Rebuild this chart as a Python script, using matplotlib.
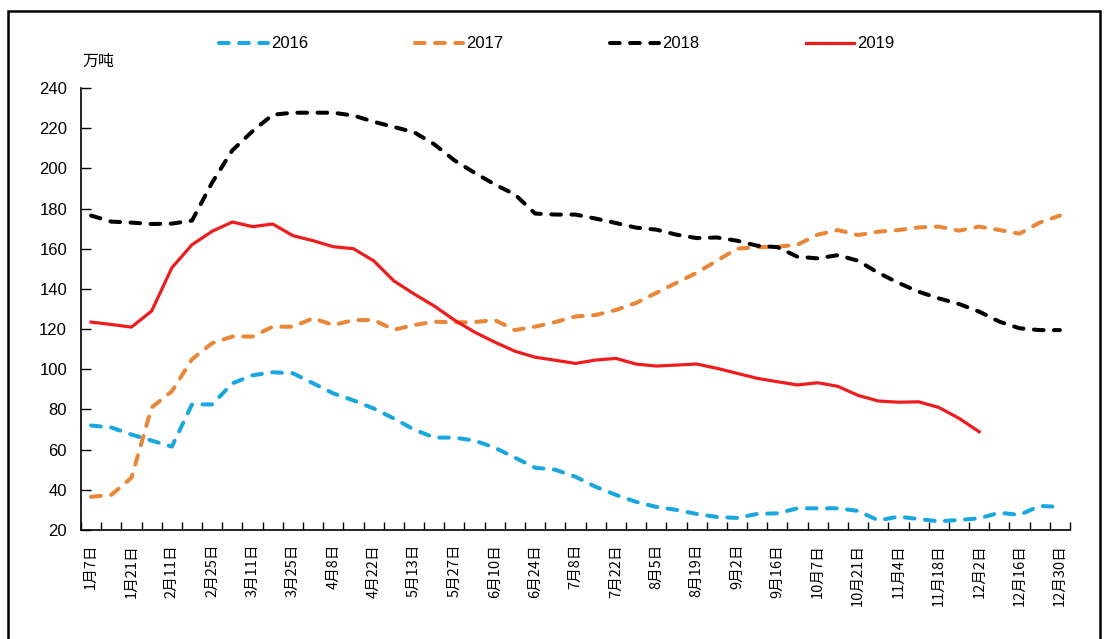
import numpy as np
import matplotlib
matplotlib.use('Agg')
import matplotlib.pyplot as plt
from matplotlib.patches import Rectangle

plt.rcParams['font.family'] = ['Liberation Sans', 'Noto Sans CJK SC', 'DejaVu Sans']

# weekly category labels (every second week is labelled on the axis)
tick_labels = ['1月7日', '1月21日', '2月11日', '2月25日', '3月11日', '3月25日', '4月8日',
               '4月22日', '5月13日', '5月27日', '6月10日', '6月24日', '7月8日', '7月22日',
               '8月5日', '8月19日', '9月2日', '9月16日', '10月7日', '10月21日', '11月4日',
               '11月18日', '12月2日', '12月16日', '12月30日']

y2016 = [72, 71, 67.5, 64.5, 61.5, 82.5, 82.5, 93, 97, 98.5, 98, 93, 88, 84.5, 80.5, 75.5, 70,
         66, 66, 64.5, 61, 56, 51, 50, 46.5, 41.5, 37.5, 34, 31.5, 30, 28, 26.5, 26, 28, 28.3,
         30.8, 30.8, 30.8, 29.5, 24.8, 26.6, 25.5, 24.3, 25, 25.8, 28.6, 27.5, 32, 31.5]
y2017 = [36.5, 37.5, 46, 81, 89, 105, 113, 116.3, 116.3, 121.2, 121.2, 125.4, 122, 124.5, 124.5,
         119.7, 122, 123.7, 123.3, 123.5, 124.5, 119.5, 121.2, 123.5, 126.3, 127, 129.5, 133,
         138, 143, 148, 154, 160, 160.8, 161, 162, 167, 169.3, 166.8, 168.5, 169.3, 170.6, 171,
         169, 171, 169.3, 167.5, 173, 176.5]
y2018 = [176.5, 173.5, 173, 172.3, 172.5, 174, 193, 209, 218.5, 226.7, 227.7, 227.7, 227.7,
         226.3, 223.2, 220.6, 218, 212, 204, 197.8, 192, 187, 177.5, 177, 177, 175, 172.8,
         170.5, 169.5, 167, 165.3, 165.6, 164, 161.5, 160.8, 156, 155.2, 156.8, 154, 148, 143,
         138.6, 135.3, 132.5, 128.7, 123.7, 120.4, 119.5, 119.5]
y2019 = [123.5, 122.3, 121, 129, 150.5, 162, 168.7, 173.3, 171, 172.3, 166.5, 164, 161, 160,
         154, 144, 137.5, 131.5, 124.5, 118.5, 113.5, 109, 106, 104.5, 102.9, 104.6, 105.4,
         102.6, 101.6, 102.1, 102.6, 100.5, 98, 95.5, 93.8, 92.2, 93.3, 91.5, 87, 84.2, 83.6,
         83.8, 81, 75.6, 68.9]

n_cat = 49

fig = plt.figure(figsize=(11.1, 6.39), dpi=100)
ax = fig.add_axes([81 / 1110, 1 - 530 / 639, (1070 - 81) / 1110, (530 - 88) / 639])

dash = (0, (2.4, 2.6))
ax.plot(range(len(y2016)), y2016, color='#1AA7E0', lw=2.9, ls=dash, dash_capstyle='round', label='2016')
ax.plot(range(len(y2017)), y2017, color='#EA8638', lw=2.9, ls=dash, dash_capstyle='round', label='2017')
ax.plot(range(len(y2018)), y2018, color='black', lw=2.9, ls=dash, dash_capstyle='round', label='2018')
ax.plot(range(len(y2019)), y2019, color='#EE1C1C', lw=2.3, label='2019')

ax.set_xlim(-0.5, n_cat - 0.5)
ax.set_ylim(20, 240)
ax.set_yticks(np.arange(20, 241, 20))
ax.tick_params(axis='y', direction='in', length=7, width=1, labelsize=12, pad=10)

# tick marks between categories, labels on every second category
ax.set_xticks(np.arange(n_cat + 1) - 0.5)
ax.set_xticklabels([])
ax.tick_params(axis='x', which='major', direction='in', length=6, width=1)
ax.set_xticks(np.arange(0, n_cat, 2), minor=True)
ax.set_xticklabels(tick_labels, minor=True, rotation=90, fontsize=10.5,
                   family=['Noto Sans CJK SC'])
ax.tick_params(axis='x', which='minor', length=0, pad=10)

for s in ['top', 'right']:
    ax.spines[s].set_visible(False)
for s in ['left', 'bottom']:
    ax.spines[s].set_linewidth(1.2)

fig.text(98 / 1110, 1 - 61 / 639, '万吨', ha='center', va='center', fontsize=11.5,
         style='italic', family=['Noto Sans CJK SC'])

leg = fig.legend(loc='center', bbox_to_anchor=(557 / 1110, 1 - 44 / 639), ncol=4,
                 frameon=False, fontsize=12, handlelength=2.9, handletextpad=0.2,
                 columnspacing=6.4)

fig.add_artist(Rectangle((8 / 1110, -0.05), (1100 - 8) / 1110, 1.05 - 11 / 639,
                         transform=fig.transFigure, fill=False, lw=1.8, ec='black'))

fig.savefig('out.png', dpi=100)
